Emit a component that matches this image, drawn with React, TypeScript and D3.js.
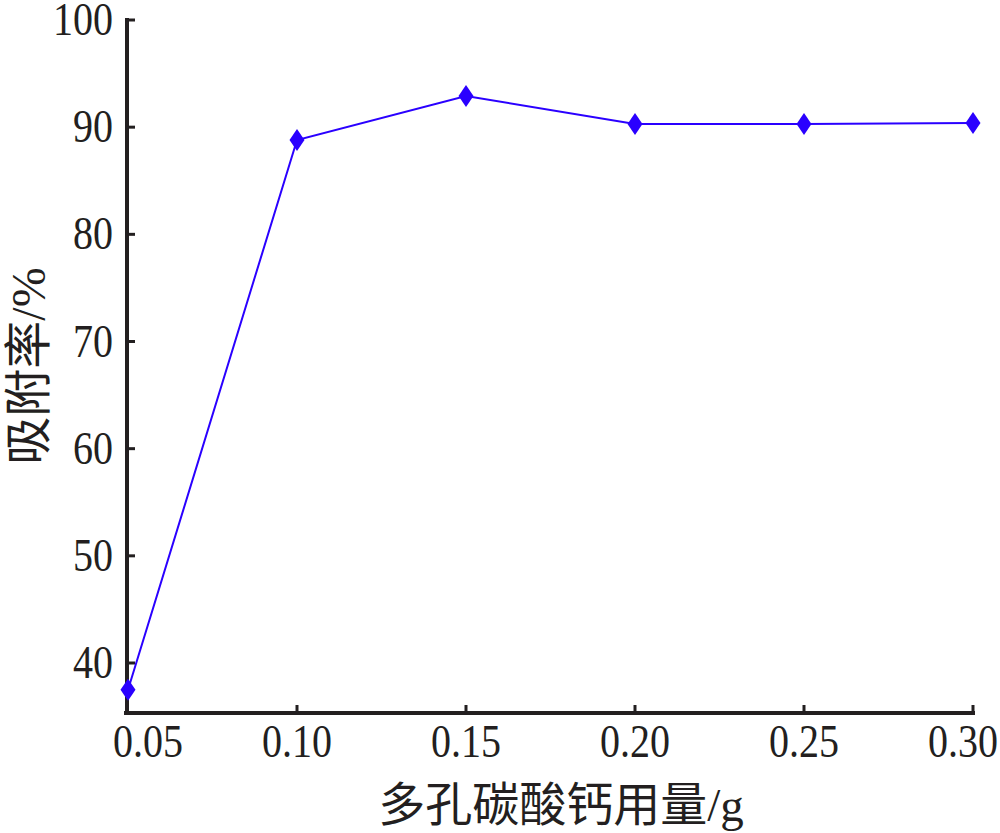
import React from "react";
import * as d3 from "d3";

const dosage = [0.05, 0.1, 0.15, 0.2, 0.25, 0.3];
const adsorption = [37.5, 88.8, 92.9, 90.3, 90.3, 90.4];
const xTicks = [0.05, 0.1, 0.15, 0.2, 0.25, 0.3];
const xTickLabels = ["0.05", "0.10", "0.15", "0.20", "0.25", "0.30"];
const yTicks = [40, 50, 60, 70, 80, 90, 100];
const xTitle = "多孔碳酸钙用量/g";
const yTitle = "吸附率/%";

const W = 1000;
const H = 833;
const left = 127;
const right = 973;
const top = 20;
const bottom = 713;

export default function App() {
  const x = d3.scaleLinear().domain([0.05, 0.3]).range([left + 1, right]);
  const y = d3.scaleLinear().domain([40, 100]).range([663, top]);
  const line = d3
    .line<number>()
    .x((_, i) => x(dosage[i]))
    .y((d) => y(d));
  const diamond = (cx: number, cy: number) =>
    `M${cx},${cy - 11}L${cx + 7.5},${cy}L${cx},${cy + 11}L${cx - 7.5},${cy}Z`;
  const blue = "#2a00ff";
  const font = "'Liberation Serif', 'Times New Roman', serif";
  const cjk = "'Liberation Serif', 'Noto Sans CJK SC', serif";
  const labelShift = (i: number) => (i === 0 ? 20 : i === xTicks.length - 1 ? -10 : 0);
  return (
    <svg
      width={W}
      height={H}
      style={{ position: "absolute", left: 0, top: 0, background: "#fff" }}
    >
      {/* axes */}
      <line x1={left - 3} x2={975} y1={bottom} y2={bottom} stroke="#231f20" strokeWidth={4} />
      <line x1={left} x2={left} y1={top - 2} y2={bottom + 2} stroke="#231f20" strokeWidth={4} />
      {yTicks.map((t) => (
        <g key={"y" + t}>
          <line x1={left} x2={left + 8} y1={y(t)} y2={y(t)} stroke="#231f20" strokeWidth={3} />
          <text
            transform={`translate(${113},${y(t) + 15}) scale(0.87,1)`}
            textAnchor="end"
            fontFamily={font}
            fontSize={46}
            fill="#231f20"
          >
            {t}
          </text>
        </g>
      ))}
      {xTicks.map((t, i) => (
        <g key={"x" + t}>
          {i > 0 && (
            <line x1={x(t)} x2={x(t)} y1={bottom} y2={bottom - 8} stroke="#231f20" strokeWidth={3} />
          )}
          <text
            transform={`translate(${x(t) + labelShift(i)},${757}) scale(0.87,1)`}
            textAnchor="middle"
            fontFamily={font}
            fontSize={46}
            fill="#231f20"
          >
            {xTickLabels[i]}
          </text>
        </g>
      ))}
      {/* series */}
      <path d={line(adsorption) || ""} fill="none" stroke={blue} strokeWidth={2} />
      {adsorption.map((v, i) => (
        <path key={"m" + i} d={diamond(x(dosage[i]), y(v))} fill={blue} />
      ))}
      {/* titles */}
      <text
        x={561}
        y={821}
        textAnchor="middle"
        fontFamily={cjk}
        fontSize={47}
        fill="#231f20"
      >
        {xTitle}
      </text>
      <text
        transform={`translate(${45},${366}) rotate(-90)`}
        textAnchor="middle"
        fontFamily={cjk}
        fontSize={48}
        fill="#231f20"
      >
        {yTitle}
      </text>
    </svg>
  );
}
